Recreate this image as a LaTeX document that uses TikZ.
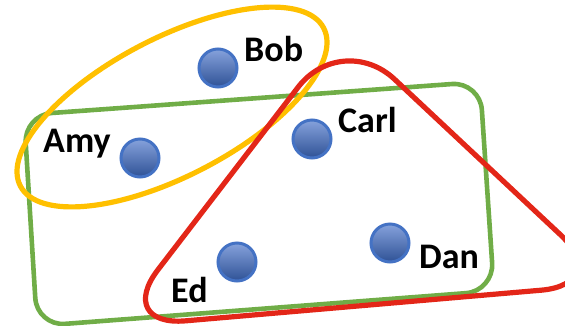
\documentclass[tikz,border=0pt]{standalone}
\usepackage{fontspec}
\setmainfont{Carlito}
\usetikzlibrary{positioning}
\definecolor{hgyellow}{RGB}{255,192,0}
\definecolor{hggreen}{RGB}{112,173,71}
\definecolor{hgred}{RGB}{227,38,24}
\definecolor{hgblue}{RGB}{68,114,196}
\definecolor{hgbluelight}{RGB}{134,162,220}
\definecolor{hgbluedark}{RGB}{47,82,150}

\begin{document}
\begin{tikzpicture}[
    x=1pt, y=-1pt,
    vertex/.style={circle, draw=hgblue, line width=3pt, top color=hgbluelight, bottom color=hgbluedark, minimum size=38pt, inner sep=0pt},
    person/.style={font=\fontsize{36}{40}\selectfont\bfseries, inner sep=0pt, anchor=base west},
    hyperedge/.style={line width=5.2pt, line join=round}
]
\useasboundingbox (0,0) rectangle (565,325);

% Hyperedges
\draw[hyperedge, draw=hggreen, line width=4.6pt, rounded corners=28pt]
    (24,115) -- (480,82) -- (494,291) -- (37,326) -- cycle;
\draw[hyperedge, draw=hgyellow, rotate around={27.5:(172,107)}]
    (172,107) ellipse [x radius=171, y radius=69];
\draw[hyperedge, draw=hgred, rounded corners=72pt]
    (342,30) -- (613,284) -- (114,327) -- cycle;

% Vertices
\node[vertex] (amy) at (140,158) {};
\node[vertex] (bob) at (218,68) {};
\node[vertex] (carl) at (312,139) {};
\node[vertex] (dan) at (390,243) {};
\node[vertex] (ed) at (237,262) {};

% Labels
\node[person] (amylbl) at (43,152) {Amy};
\node[person] (boblbl) at (244,61) {Bob};
\node[person] (carllbl) at (338,132) {Carl};
\node[person] (danlbl) at (419,268) {Dan};
\node[person] (edlbl) at (171,302) {Ed};

\end{tikzpicture}
\end{document}
